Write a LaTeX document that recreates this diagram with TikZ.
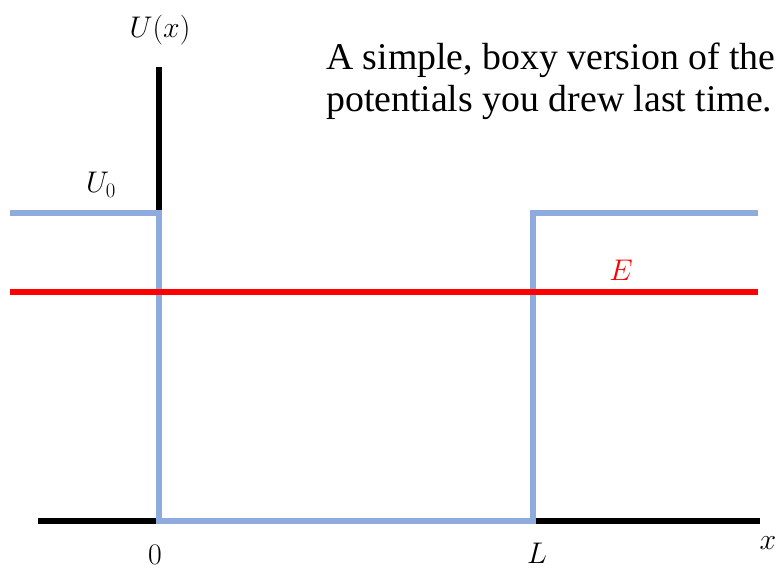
\documentclass[tikz,border=0pt]{standalone}
\usepackage{fontspec}
\newfontfamily\timesfont{Liberation Serif}
\newcommand\mylab[1]{\scalebox{1.2}{#1}}
\begin{document}
\begin{tikzpicture}[x=1pt,y=-1pt,
  axis/.style={line width=5.5pt,black},
  pot/.style={line width=5.5pt,color={rgb,255:red,143;green,170;blue,220}},
  energy/.style={line width=5.5pt,color={rgb,255:red,255;green,0;blue,0}},
  lab/.style={font=\fontsize{24.88}{30}\selectfont,inner sep=0pt}]
\useasboundingbox (0,0) rectangle (780,569);
\coordinate (ytop) at (159,67);
\coordinate (orig) at (159,521);
\coordinate (xl) at (38,521);
\coordinate (xr) at (760,521);
\draw[axis] (orig) -- (ytop);
\draw[axis] (xl) -- (xr);
\coordinate (p1) at (10,213);
\coordinate (p2) at (159,213);
\coordinate (p3) at (159,521);
\coordinate (p4) at (533,521);
\coordinate (p5) at (533,213);
\coordinate (p6) at (758,213);
\draw[pot] (p1) -- (p2) -- (p3) -- (p4) -- (p5) -- (p6);
\coordinate (e1) at (10,292);
\coordinate (e2) at (758,292);
\draw[energy] (e1) -- (e2);
\node[lab] (ux) at (160,30) {\mylab{$U(x)$}};
\node[lab] (u0) at (101,185) {\mylab{$U_{\scriptscriptstyle 0}$}};
\node[lab,red] (E) at (621,270) {\mylab{$E$}};
\node[lab] (zero) at (155,555) {\mylab{$0$}};
\node[lab] (L) at (537,553) {\mylab{$L$}};
\node[lab] (x) at (768,543) {\mylab{$x$}};
\node[font=\timesfont\fontsize{37.8}{42}\selectfont,anchor=base west,align=left,inner sep=0pt] (txt) at (326,112) {A simple, boxy version of the\\potentials you drew last time.};
\end{tikzpicture}
\end{document}
